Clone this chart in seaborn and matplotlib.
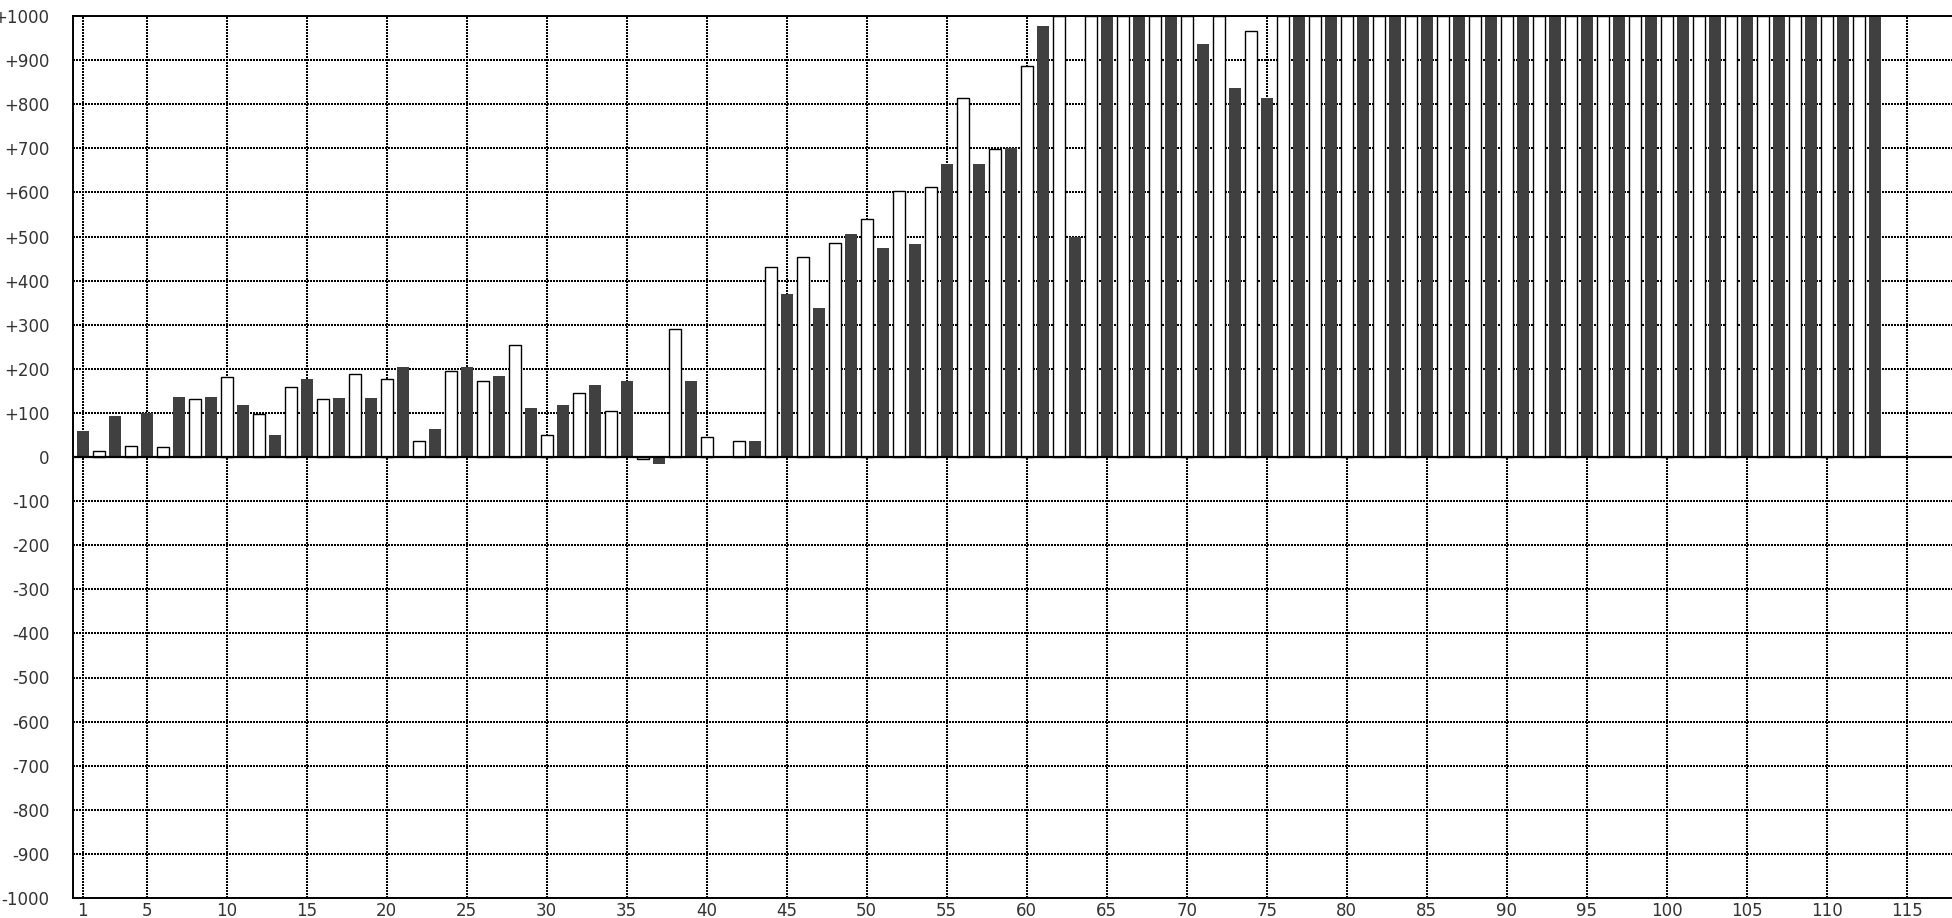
import numpy as np
import pandas as pd
import matplotlib
matplotlib.use("Agg")
import matplotlib.pyplot as plt
import seaborn as sns

# bar values, positions 1..113 (values above the top of the axis sit at 1000)
positions = list(range(1, 114))
values = [
    60, 13, 92, 26, 100, 22, 137, 131, 137, 181,
    119, 98, 51, 158, 178, 131, 133, 188, 133, 176,
    205, 36, 64, 196, 205, 173, 183, 255, 110, 50,
    119, 145, 164, 105, 173, -5, -17, 290, 173, 45,
    0, 36, 37, 431, 369, 454, 337, 486, 505, 540,
    473, 604, 483, 613, 664, 813, 664, 699, 701, 886,
    978, 1000, 498, 1000, 1000, 1000, 1000, 1000, 1000, 1000,
    936, 1000, 836, 967, 814, 1000, 1000, 1000, 1000, 1000,
    1000, 1000, 1000, 1000, 1000, 1000, 1000, 1000, 1000, 1000,
    1000, 1000, 1000, 1000, 1000, 1000, 1000, 1000, 1000, 1000,
    1000, 1000, 1000, 1000, 1000, 1000, 1000, 1000, 1000, 1000,
    1000, 1000, 1000,
]
kinds = ["dark" if p % 2 == 1 else "light" for p in positions]

x_ticks = [1] + list(range(5, 120, 5))
y_ticks = list(range(-1000, 1001, 100))


def y_label(v):
    if v > 0:
        return f"+{v}"
    if v < 0:
        return f"-{abs(v)}"
    return "0"


df = pd.DataFrame({"pos": positions, "value": values, "kind": kinds})

sns.set_style("white")
plt.rcParams["font.family"] = ["DejaVu Sans"]

fig = plt.figure(figsize=(19.52, 9.18), dpi=100)
ax = fig.add_axes([73 / 1952, 20 / 918, 1 - 73 / 1952, 1 - 36 / 918])

sns.barplot(data=df, x="pos", y="value", hue="kind", hue_order=["dark", "light"],
            palette={"dark": "#404040", "light": "white"}, native_scale=True,
            dodge=False, width=0.77, errorbar=None, legend=False, ax=ax,
            linewidth=0, zorder=2)

# white bars get a black outline
for patch in ax.containers[1]:
    patch.set_edgecolor("black")
    patch.set_linewidth(1.0)

ax.axhline(0, color="black", lw=1.6, zorder=4)

ax.set_xlim((73 - 66.7) / 16, (1952 - 66.7) / 16)
ax.set_ylim(-1000, 1000)
ax.set_xticks(x_ticks)
ax.set_xticklabels([str(t) for t in x_ticks])
ax.set_yticks(y_ticks)
ax.set_yticklabels([y_label(v) for v in y_ticks])

ax.set_axisbelow(True)
ax.grid(True, color="black", lw=1.1, linestyle=(0, (1.3, 1.3)), antialiased=False)
ax.tick_params(axis="both", length=0, labelsize=12, colors="#333333")
ax.tick_params(axis="y", pad=17)
ax.tick_params(axis="x", pad=3)
ax.set_xlabel("")
ax.set_ylabel("")

for side in ["left", "top", "bottom"]:
    ax.spines[side].set_color("black")
    ax.spines[side].set_linewidth(1.4)
ax.spines["right"].set_visible(False)

fig.savefig("out.png", dpi=100)
